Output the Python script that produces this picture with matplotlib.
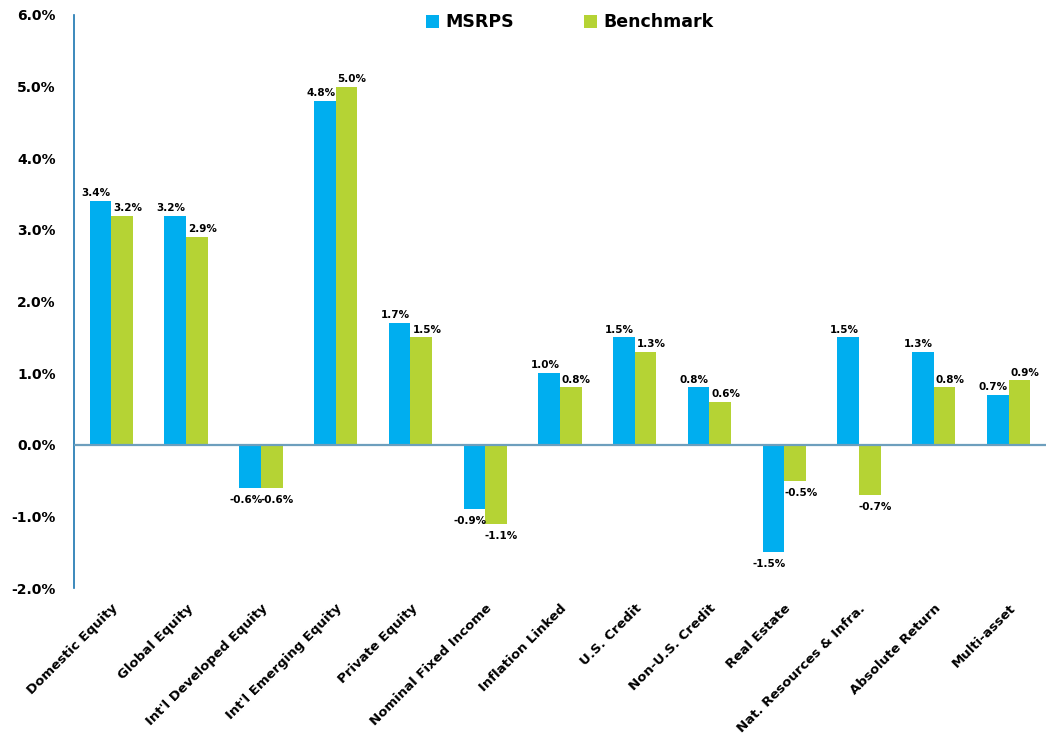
import numpy as np
import matplotlib.pyplot as plt
from matplotlib.ticker import FuncFormatter, MultipleLocator

categories = ['Domestic Equity', 'Global Equity', "Int'l Developed Equity", "Int'l Emerging Equity",
              'Private Equity', 'Nominal Fixed Income', 'Inflation Linked', 'U.S. Credit',
              'Non-U.S. Credit', 'Real Estate', 'Nat. Resources & Infra.', 'Absolute Return',
              'Multi-asset']
msrps = [3.4, 3.2, -0.6, 4.8, 1.7, -0.9, 1.0, 1.5, 0.8, -1.5, 1.5, 1.3, 0.7]
benchmark = [3.2, 2.9, -0.6, 5.0, 1.5, -1.1, 0.8, 1.3, 0.6, -0.5, -0.7, 0.8, 0.9]

plt.rcParams['font.family'] = ['DejaVu Sans']
plt.rcParams['font.weight'] = 'bold'

BLUE = '#00aeef'
GREEN = '#b5d334'

fig = plt.figure(figsize=(10.48, 7.45), dpi=100)
ax = fig.add_axes([0.0706, 0.2107, 0.9274, 0.7692])

x = np.arange(len(categories))
w = 0.29
b1 = ax.bar(x - w / 2, msrps, w, color=BLUE, label='MSRPS', zorder=2)
b2 = ax.bar(x + w / 2, benchmark, w, color=GREEN, label='Benchmark', zorder=2)

# value labels: blue ones nudged left, green ones right so neighbours don't collide
for bars, vals, dx in ((b1, msrps, -3), (b2, benchmark, 4)):
    for rect, v in zip(bars, vals):
        cx = rect.get_x() + rect.get_width() / 2
        if v >= 0:
            ax.annotate(f'{v:.1f}%', (cx, v), xytext=(dx, 2), textcoords='offset points',
                        ha='center', va='bottom', fontsize=7.5, fontweight='bold')
        else:
            ax.annotate(f'{v:.1f}%', (cx, v), xytext=(dx, -5), textcoords='offset points',
                        ha='center', va='top', fontsize=7.5, fontweight='bold')

ax.axhline(0, color='#6d9fbd', lw=1.6, zorder=3)

ax.set_xlim(-0.5, 12.5)
ax.set_ylim(-2, 6)
ax.yaxis.set_major_locator(MultipleLocator(1))
ax.yaxis.set_major_formatter(FuncFormatter(lambda v, p: f'{v:.1f}%'))

for side in ('top', 'right', 'bottom'):
    ax.spines[side].set_visible(False)
ax.spines['left'].set_color('#1a75b0')
ax.spines['left'].set_linewidth(1.2)

ax.tick_params(axis='y', length=0, pad=13, labelsize=10)
ax.tick_params(axis='x', length=0, pad=10)
ax.set_xticks(x)
ax.set_xticklabels(categories, rotation=45, ha='right', rotation_mode='anchor',
                   fontsize=9.5, fontweight='bold')
for lbl in ax.get_yticklabels():
    lbl.set_fontweight('bold')

ax.legend(loc='upper center', bbox_to_anchor=(0.51, 1.03), ncol=2, frameon=False,
          handlelength=0.75, handleheight=0.75, columnspacing=4.0,
          handletextpad=0.4, prop={'weight': 'bold', 'size': 12.5})

fig.savefig('out.png', dpi=100)
